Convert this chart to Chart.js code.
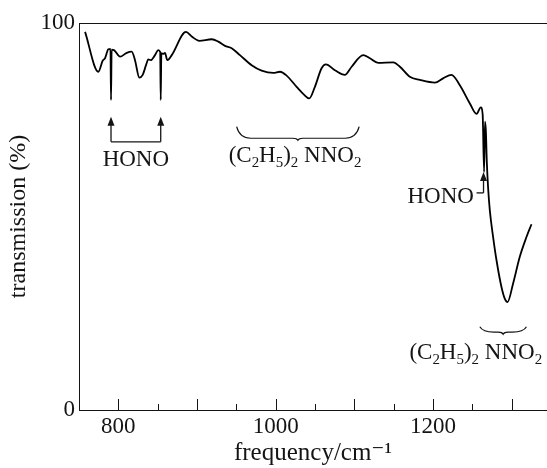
<!DOCTYPE html>
<html>
<head>
<meta charset="utf-8">
<script src="https://cdn.jsdelivr.net/npm/chart.js@4.4.1/dist/chart.umd.min.js"></script>
<style>
html,body{margin:0;padding:0;background:#fff;}
#wrap{width:547px;height:468px;position:relative;}
</style>
</head>
<body>
<div id="wrap"><canvas id="irChart"></canvas></div>
<script>
// ==========================================
// IR spectrum: transmission vs frequency
// ==========================================

// frequency (cm-1)
const freq=[
757.7,774.6,780.2,783.1,787.3,790.0,790.7,791.5,794.5,802.2,
810.7,817.0,821.2,826.7,831.0,835.2,838.1,841.2,846.6,850.8,
853.2,853.9,854.7,857.2,859.3,862.3,867.9,886.0,893.3,902.9,
918.7,927.1,935.6,944.1,954.6,969.5,982.2,997.0,1005.5,1014.0,
1026.7,1036.0,1042.7,1049.9,1058.4,1063.9,1075.3,1088.0,1096.6,1111.3,
1119.8,1130.4,1149.4,1158.0,1170.6,1183.3,1202.4,1212.9,1223.6,1234.2,
1246.9,1255.4,1260.8,1263.2,1265.0,1266.2,1267.3,1268.5,1270.1,1272.3,
1276.5,1280.8,1287.1,1291.3,1294.8,1301.9,1310.4,1318.9,1325.3
];

// transmission (%)
const trans=[
97.7,87.4,90.3,90.9,93.2,93.3,80.1,93.1,93.0,91.3,
92.3,92.6,90.4,85.9,86.6,89.1,90.6,90.4,91.7,93.0,
92.5,80.1,92.2,92.0,92.3,90.4,91.7,97.7,96.5,95.4,
95.8,95.2,94.1,93.5,91.7,89.1,87.7,87.1,87.4,86.4,
83.5,81.5,80.5,83.5,88.3,89.3,87.8,86.6,88.7,91.7,
90.9,89.7,89.8,88.7,86.1,85.3,84.6,85.7,86.6,83.9,
79.2,76.5,78.2,76.4,61.5,74.5,72.0,64.0,57.5,51.6,
44.7,38.7,31.8,28.8,27.9,32.7,39.6,44.7,48.0
];

// tick labels
const xTickLabels=[800,1000,1200];
const yTickLabels=[0,100];

const SERIF='"Liberation Serif","DejaVu Serif",serif';
const INK='#141414';

// formula pieces: [text, isSubscript]
const nitrosamine=[["(",0],["C",0],["2",1],["H",0],["5",1],[")",0],["2",1],[" ",0],["NNO",0],["2",1]];

function drawFormula(ctx,parts,cx,baseY,size){
  const sub=size*0.65;
  let w=0;
  parts.forEach(p=>{
    ctx.font=(p[1]?sub:size)+"px "+SERIF;
    w+=ctx.measureText(p[0]).width;
  });
  let x=cx-w/2;
  ctx.textAlign="left";
  ctx.textBaseline="alphabetic";
  parts.forEach(p=>{
    ctx.font=(p[1]?sub:size)+"px "+SERIF;
    ctx.fillText(p[0],x,baseY+(p[1]?size*0.22:0));
    x+=ctx.measureText(p[0]).width;
  });
}

function brace(ctx,x1,x2,yTop,yBot){
  const xc=(x1+x2)/2;
  ctx.beginPath();
  ctx.moveTo(x1,yTop);
  ctx.quadraticCurveTo(x1+3,yBot-2,x1+14,yBot-2);
  ctx.lineTo(xc-5,yBot-2);
  ctx.quadraticCurveTo(xc-1,yBot-2,xc,yBot);
  ctx.quadraticCurveTo(xc+1,yBot-2,xc+5,yBot-2);
  ctx.lineTo(x2-14,yBot-2);
  ctx.quadraticCurveTo(x2-3,yBot-2,x2,yTop);
  ctx.stroke();
}

function arrowUp(ctx,x,yTip,yTail){
  ctx.beginPath();
  ctx.moveTo(x,yTail);
  ctx.lineTo(x,yTip+6);
  ctx.stroke();
  ctx.beginPath();
  ctx.moveTo(x,yTip);
  ctx.lineTo(x-3.5,yTip+9);
  ctx.lineTo(x+3.5,yTip+9);
  ctx.closePath();
  ctx.fill();
}

const decorations={
  id:"decorations",
  afterDraw(chart){
    const {ctx,chartArea:a,scales:{x,y}}=chart;
    ctx.save();
    ctx.strokeStyle=INK;
    ctx.fillStyle=INK;
    ctx.lineWidth=1;

    // top frame
    ctx.beginPath();
    ctx.moveTo(a.left,a.top+0.5);
    ctx.lineTo(a.right,a.top+0.5);
    ctx.stroke();

    // inward ticks every 50, longer every 100
    for(let v=800;v<=x.max;v+=50){
      const px=Math.round(x.getPixelForValue(v))+0.5;
      const len=(v%100===0)?11:6;
      ctx.beginPath();
      ctx.moveTo(px,a.bottom);
      ctx.lineTo(px,a.bottom-len);
      ctx.stroke();
    }

    ctx.lineWidth=1.3;
    // HONO (left pair)
    const h1=x.getPixelForValue(790.7), h2=x.getPixelForValue(853.9);
    const tip=y.getPixelForValue(75.8), base=y.getPixelForValue(69.3);
    arrowUp(ctx,h1,tip,base);
    arrowUp(ctx,h2,tip,base);
    ctx.beginPath();
    ctx.moveTo(h1,base);ctx.lineTo(h2,base);ctx.stroke();
    ctx.font="23px "+SERIF;
    ctx.textAlign="center";
    ctx.textBaseline="alphabetic";
    ctx.fillText("HONO",(h1+h2)/2,y.getPixelForValue(63.0));

    // HONO (right)
    const r1=x.getPixelForValue(1255.4), r2=x.getPixelForValue(1264.3);
    const ry=y.getPixelForValue(56.1);
    ctx.beginPath();
    ctx.moveTo(r1,ry);ctx.lineTo(r2,ry);ctx.stroke();
    arrowUp(ctx,r2,y.getPixelForValue(61.5),ry);
    ctx.textAlign="right";
    ctx.fillText("HONO",x.getPixelForValue(1252.0),y.getPixelForValue(53.4));

    // (C2H5)2NNO2 braces and labels
    ctx.lineWidth=1.2;
    brace(ctx,x.getPixelForValue(950.4),x.getPixelForValue(1106.2),y.getPixelForValue(73.2),y.getPixelForValue(69.7));
    drawFormula(ctx,nitrosamine,x.getPixelForValue(1024.6),y.getPixelForValue(64.1),23);
    brace(ctx,x.getPixelForValue(1259.6),x.getPixelForValue(1318.9),y.getPixelForValue(21.5),y.getPixelForValue(19.6));
    drawFormula(ctx,nitrosamine,x.getPixelForValue(1254.4),y.getPixelForValue(13.3),23);

    ctx.restore();
  }
};

new Chart(document.getElementById("irChart"),{
  type:"line",
  data:{
    datasets:[{
      label:"transmission",
      data:freq.map((f,i)=>({x:f,y:trans[i]})),
      borderColor:"#000",
      borderWidth:1.8,
      pointRadius:0,
      fill:false,
      cubicInterpolationMode:"monotone"
    }]
  },
  options:{
    responsive:true,
    maintainAspectRatio:false,
    animation:false,
    layout:{padding:{top:23,right:0,left:0,bottom:0}},
    plugins:{legend:{display:false},tooltip:{enabled:false}},
    scales:{
      x:{
        type:"linear",
        min:750,
        max:1345,
        afterFit:s=>{s.height=58;},
        afterBuildTicks:s=>{s.ticks=xTickLabels.map(v=>({value:v}));},
        grid:{display:false,drawTicks:false},
        border:{display:true,color:INK,width:1},
        ticks:{color:INK,font:{family:SERIF,size:23},padding:3,maxRotation:0,autoSkip:false,callback:v=>String(v)},
        title:{display:true,text:"frequency/cm\u207B\u00B9",color:INK,font:{family:SERIF,size:25},padding:{top:0,bottom:0}}
      },
      y:{
        min:0,
        max:100,
        afterFit:s=>{s.width=79;},
        afterBuildTicks:s=>{s.ticks=yTickLabels.map(v=>({value:v}));},
        grid:{display:false,drawTicks:false},
        border:{display:true,color:INK,width:1},
        ticks:{color:INK,font:{family:SERIF,size:23},padding:4,callback:v=>String(v)},
        title:{display:true,text:"transmission (%)",color:INK,font:{family:SERIF,size:24},padding:{top:4,bottom:0}}
      }
    }
  },
  plugins:[decorations]
});
</script>
</body>
</html>
